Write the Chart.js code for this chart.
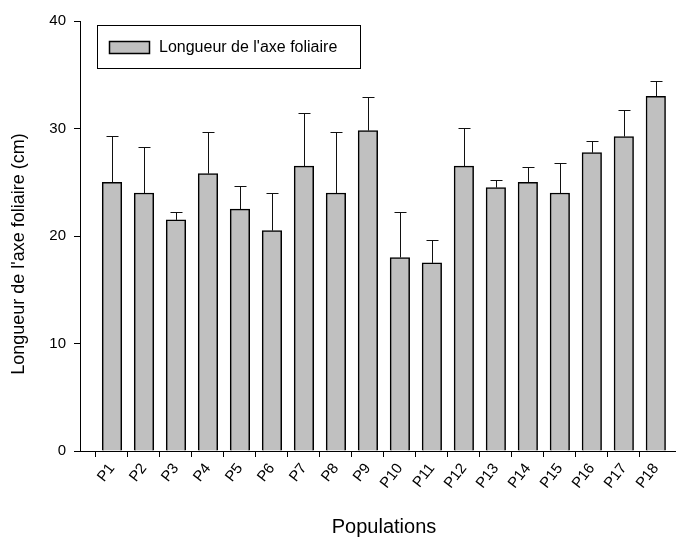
<!DOCTYPE html>
<html>
<head>
<meta charset="utf-8">
<script src="https://cdn.jsdelivr.net/npm/chart.js@4"></script>
<style>
    html, body { margin: 0; padding: 0; background: #fff; }
    #wrap { width: 680px; height: 537px; }
</style>
</head>
<body>
<div id="wrap"><canvas id="leafChart" width="680" height="537"></canvas></div>
<script>
// Populations and leaf axis length (cm), mean and standard deviation
const populations = ['P1', 'P2', 'P3', 'P4', 'P5', 'P6', 'P7', 'P8', 'P9',
    'P10', 'P11', 'P12', 'P13', 'P14', 'P15', 'P16', 'P17', 'P18'];
const meanLength = [25, 24, 21.5, 25.8, 22.5, 20.5, 26.5, 24, 29.8,
    18, 17.5, 26.5, 24.5, 25, 24, 27.75, 29.25, 33];
const stdLength = [4.3, 4.3, 0.7, 3.85, 2.15, 3.5, 4.95, 5.7, 3.15,
    4.25, 2.1, 3.55, 0.7, 1.4, 2.8, 1.1, 2.5, 1.4];
const yTicks = [0, 10, 20, 30, 40];

const FONT = '"Liberation Sans", Arial, sans-serif';
const X_TITLE = 'Populations';
const Y_TITLE = "Longueur de l'axe foliaire (cm)";

// Upper error bars drawn on top of the bars
const errorBars = {
    id: 'errorBars',
    afterDatasetsDraw(chart) {
        const { ctx, scales: { x, y } } = chart;
        ctx.save();
        ctx.strokeStyle = '#111';
        ctx.lineWidth = 1;
        meanLength.forEach((m, i) => {
            const px = Math.round(x.getPixelForValue(i + 1)) + 0.5;
            const yBar = y.getPixelForValue(m);
            const yTop = Math.round(y.getPixelForValue(m + stdLength[i])) + 0.5;
            ctx.beginPath();
            ctx.moveTo(px, yBar);
            ctx.lineTo(px, yTop);
            ctx.moveTo(px - 6, yTop);
            ctx.lineTo(px + 6, yTop);
            ctx.stroke();
        });
        ctx.restore();
    }
};

// Boxed legend in the upper left corner and the two axis titles
const boxLegend = {
    id: 'boxLegend',
    afterDraw(chart) {
        const { ctx } = chart;
        const ds = chart.data.datasets[0];
        ctx.save();
        ctx.strokeStyle = '#000';
        ctx.lineWidth = 1;
        ctx.strokeRect(97.5, 25.5, 263, 43);
        ctx.fillStyle = ds.backgroundColor;
        ctx.fillRect(109.5, 41.5, 40, 12);
        ctx.lineWidth = 1.5;
        ctx.strokeRect(109.5, 41.5, 40, 12);
        ctx.fillStyle = '#000';
        ctx.font = '16px ' + FONT;
        ctx.textBaseline = 'middle';
        ctx.fillText(ds.label, 159, 47.5);

        ctx.textAlign = 'center';
        ctx.font = '20px ' + FONT;
        ctx.fillText(X_TITLE, 384, 527);
        ctx.translate(19, 254);
        ctx.rotate(-Math.PI / 2);
        ctx.font = '18px ' + FONT;
        ctx.fillText(Y_TITLE, 0, 0);
        ctx.restore();
    }
};

// only the population positions get a tick mark
const popTick = c => (c.tick && c.tick.value >= 1 && c.tick.value <= populations.length
    ? '#000' : 'rgba(0,0,0,0)');

document.addEventListener('DOMContentLoaded', () => {
    const ctx = document.getElementById('leafChart').getContext('2d');
    new Chart(ctx, {
        type: 'bar',
        data: {
            datasets: [{
                label: "Longueur de l'axe foliaire",
                data: meanLength.map((m, i) => ({ x: i + 1, y: m })),
                backgroundColor: '#c0c0c0',
                borderColor: '#000',
                borderWidth: 1.5,
                borderSkipped: 'bottom',
                barThickness: 19.5,
            }]
        },
        options: {
            responsive: false,
            animation: false,
            layout: { padding: { top: 21, right: 5, left: 0, bottom: 0 } },
            plugins: {
                legend: { display: false },
                tooltip: { enabled: false },
            },
            scales: {
                x: {
                    type: 'linear',
                    min: 0,
                    max: 18.6,
                    offset: false,
                    afterBuildTicks: scale => {
                        scale.ticks = populations.map((_, i) => ({ value: i + 1 }));
                    },
                    afterFit: scale => { scale.height = 86; },
                    ticks: {
                        autoSkip: false,
                        minRotation: 52,
                        maxRotation: 52,
                        padding: 3,
                        color: '#000',
                        font: { family: FONT, size: 15 },
                        callback: v => populations[v - 1],
                    },
                    grid: {
                        drawOnChartArea: false,
                        drawTicks: true,
                        tickLength: 6,
                        color: popTick,
                    },
                    border: { display: true, color: '#000', width: 1 },
                },
                y: {
                    min: 0,
                    max: 40,
                    afterBuildTicks: scale => {
                        scale.ticks = yTicks.map(v => ({ value: v }));
                    },
                    afterFit: scale => { scale.width = 80; },
                    ticks: {
                        padding: 8,
                        color: '#000',
                        font: { family: FONT, size: 15 },
                    },
                    grid: {
                        drawOnChartArea: false,
                        drawTicks: true,
                        tickLength: 6,
                        color: '#000',
                    },
                    border: { display: true, color: '#000', width: 1 },
                },
            },
        },
        plugins: [errorBars, boxLegend],
    });
});
</script>
</body>
</html>
